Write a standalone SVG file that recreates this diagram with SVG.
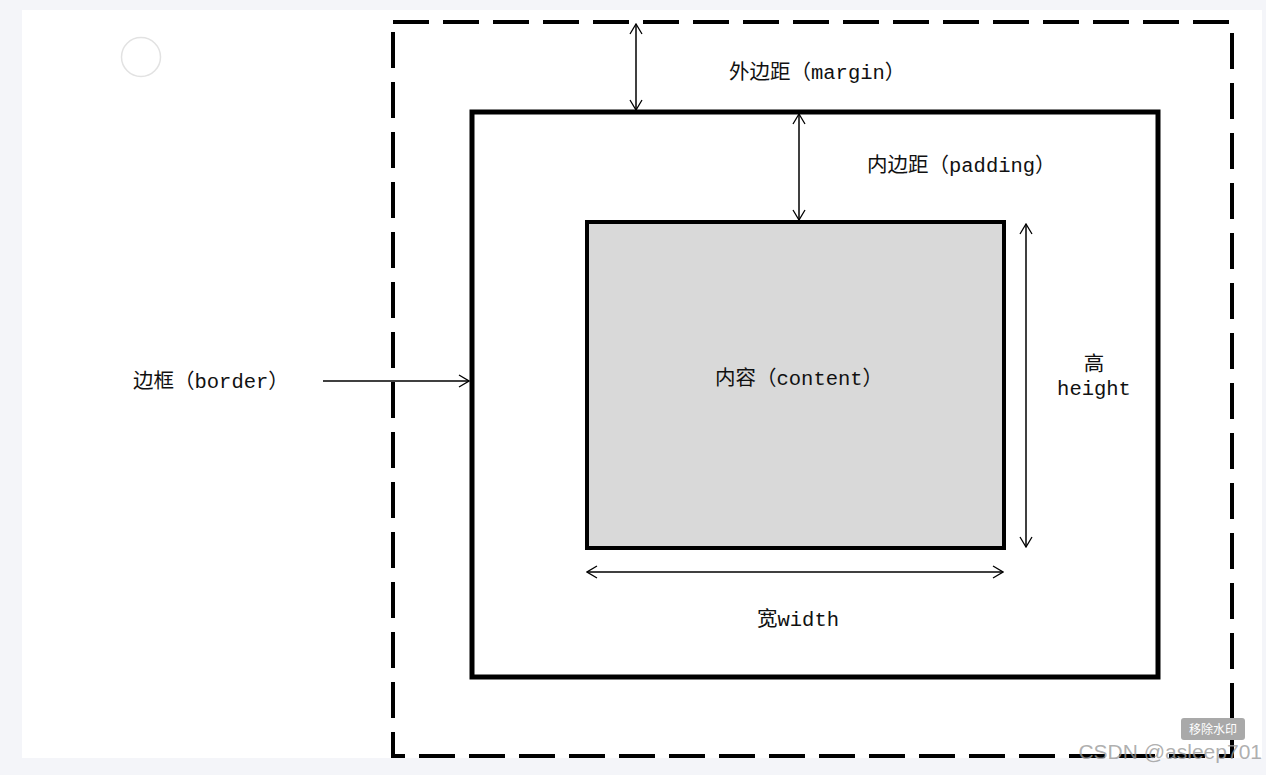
<svg xmlns="http://www.w3.org/2000/svg" width="1266" height="775" viewBox="0 0 1266 775">
<defs>
<marker id="ah" viewBox="0 0 12 14" refX="11" refY="7" markerWidth="12" markerHeight="14" markerUnits="userSpaceOnUse" orient="auto-start-reverse">
<path d="M1,1 L11,7 L1,13" fill="none" stroke="#000" stroke-width="1.3"/>
</marker>
<style>
.t{font-family:"Liberation Mono","Noto Sans CJK SC",monospace;font-size:20.5px;fill:#111}
.c{stroke:#000;stroke-width:1.5;fill:none;marker-end:url(#ah);marker-start:url(#ah)}
</style>
</defs>
<rect width="1266" height="775" fill="#f4f5f9"/>
<rect x="22" y="10" width="1240" height="748" fill="#fff"/>
<circle cx="141" cy="57" r="19.5" fill="none" stroke="#e2e2e2" stroke-width="1.5"/>
<g id="margin-box"><rect x="393" y="22" width="839" height="734" fill="none" stroke="#000" stroke-width="4" stroke-dasharray="36 14"/></g>
<g id="border-box"><rect x="472" y="112" width="686" height="565" fill="none" stroke="#000" stroke-width="5"/></g>
<g id="content-box"><rect x="587" y="222" width="417" height="326" fill="#d9d9d9" stroke="#000" stroke-width="4"/>
<text class="t" x="715" y="385">内容（content）</text></g>
<g id="labels">
<text class="t" x="729" y="79">外边距（margin）</text>
<text class="t" x="867" y="172">内边距（padding）</text>
<text class="t" x="133" y="388">边框（border）</text>
<text class="t" x="1094" y="371" text-anchor="middle">高</text>
<text class="t" x="1094" y="395" text-anchor="middle">height</text>
<text class="t" x="798" y="626" text-anchor="middle">宽width</text>
</g>
<g id="connectors">
<line class="c" x1="636" y1="24" x2="636" y2="110"/>
<line class="c" x1="799" y1="114" x2="799" y2="220"/>
<line class="c" x1="1026" y1="224" x2="1026" y2="547"/>
<line class="c" x1="587" y1="572" x2="1003" y2="572"/>
<line x1="323" y1="381" x2="469" y2="381" stroke="#000" stroke-width="1.5" marker-end="url(#ah)"/>
</g>
<g id="watermark">
<rect x="1181" y="718" width="64" height="22" rx="3" fill="#a9a9a9"/>
<text x="1213" y="734" text-anchor="middle" font-family="Noto Sans CJK SC, sans-serif" font-size="12" fill="#fff">移除水印</text>
<text x="1262" y="759" text-anchor="end" font-family="Liberation Sans, sans-serif" font-size="21" fill="#9a9a9a" fill-opacity="0.8">CSDN @asleep701</text>
</g>
</svg>
